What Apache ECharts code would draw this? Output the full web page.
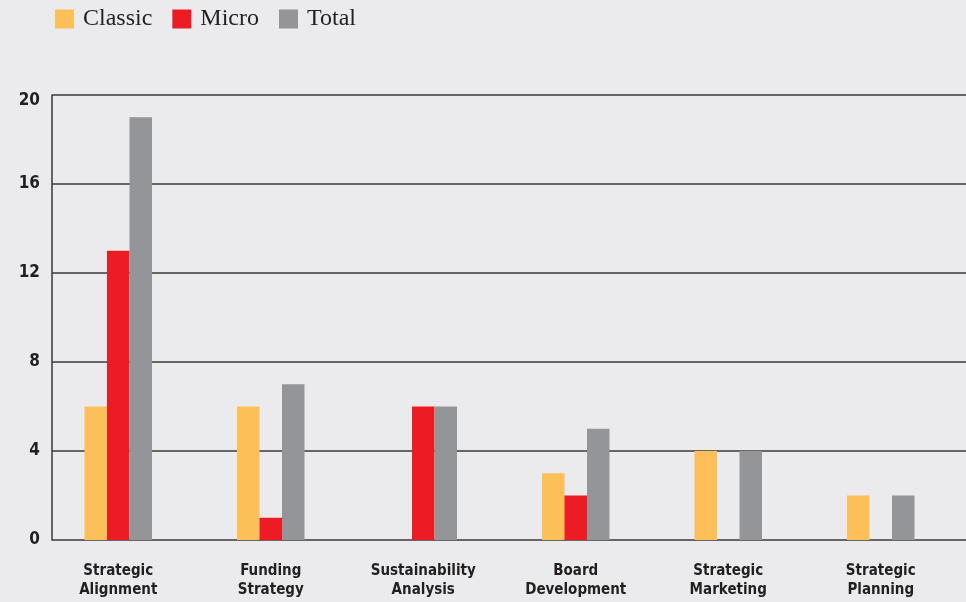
<!DOCTYPE html>
<html><head><meta charset="utf-8">
<script src="https://cdn.jsdelivr.net/npm/echarts@6/dist/echarts.min.js"></script>
<style>html,body{margin:0;padding:0;background:#EBEBED;}#c{width:966px;height:602px;}</style>
</head><body><div id="c"></div>
<script>
const categories = ['Strategic\nAlignment','Funding\nStrategy','Sustainability\nAnalysis','Board\nDevelopment','Strategic\nMarketing','Strategic\nPlanning'];
const classic = [6, 6, 0, 3, 4, 2];
const micro = [13, 1, 6, 2, 0, 0];
const total = [19, 7, 6, 5, 4, 2];
const yTicks = [0, 4, 8, 12, 16, 20];

const sansBold = '"Liberation Sans Narrow","DejaVu Sans Condensed","Roboto",sans-serif';
const chart = echarts.init(document.getElementById('c'), null, {renderer:'canvas'});
chart.setOption({
  backgroundColor: '#EBEBED',
  animation: false,
  color: ['#FDBF57','#ED1C24','#939598'],
  legend: {
    left: 50, top: 2,
    itemWidth: 19, itemHeight: 19, itemGap: 20,
    icon: 'rect',
    textStyle: {fontFamily: '"Liberation Serif","DejaVu Serif",serif', fontSize: 24, color: '#231F20', padding: [0, 0, 0, 4]},
    data: ['Classic','Micro','Total']
  },
  grid: [
    {left: 52, right: 0, top: 95, bottom: 62},
    {left: 42, width: 915, top: 95, bottom: 62}
  ],
  xAxis: [
    {gridIndex: 0, type: 'value', min: 0, max: 1, show: false},
    {gridIndex: 1, type: 'category', data: categories,
     axisLine: {show: false}, axisTick: {show: false},
     axisLabel: {margin: 22, fontFamily: sansBold, fontWeight: 'bold', fontSize: 15, lineHeight: 19, color: '#231F20'}}
  ],
  yAxis: [
    {gridIndex: 0, type: 'value', min: yTicks[0], max: yTicks[yTicks.length-1], interval: 4,
     axisLine: {show: true, lineStyle: {color: '#3a3a3a', width: 1.5}},
     axisTick: {show: false},
     splitLine: {show: true, lineStyle: {color: '#3a3a3a', width: 1.5}},
     axisLabel: {margin: 12, fontFamily: sansBold, fontWeight: 'bold', fontSize: 17, color: '#231F20',
       formatter: function (v) { return v === yTicks[yTicks.length-1] ? '{t|' + v + '}' : String(v); },
       rich: {t: {fontFamily: sansBold, fontWeight: 'bold', fontSize: 17, color: '#231F20', padding: [12, 0, 0, 0]}}}},
    {gridIndex: 1, type: 'value', min: 0, max: 20, show: false, splitLine: {show: false}}
  ],
  series: [
    {name: 'Classic', type: 'bar', xAxisIndex: 1, yAxisIndex: 1, data: classic, barWidth: 22.5, barGap: '0%'},
    {name: 'Micro', type: 'bar', xAxisIndex: 1, yAxisIndex: 1, data: micro, barWidth: 22.5, barGap: '0%'},
    {name: 'Total', type: 'bar', xAxisIndex: 1, yAxisIndex: 1, data: total, barWidth: 22.5, barGap: '0%'}
  ]
});
</script></body></html>
